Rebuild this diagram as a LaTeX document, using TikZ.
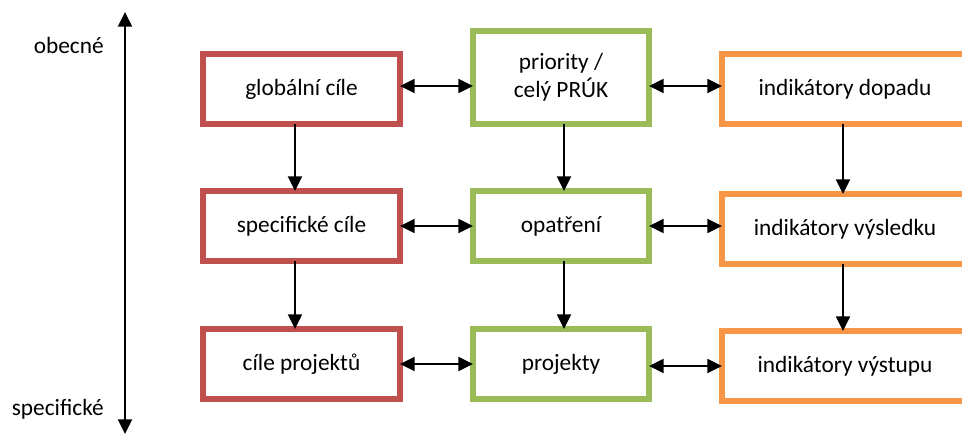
\documentclass[tikz,border=0pt]{standalone}
\usepackage{fontspec}
\setmainfont{Carlito}
\usetikzlibrary{arrows.meta}
\definecolor{cilred}{HTML}{C0504D}
\definecolor{prioGreen}{HTML}{9BBB59}
\definecolor{indOrange}{HTML}{F79646}

\begin{document}
\begin{tikzpicture}[x=0.75pt,y=-0.75pt,>={Triangle[length=11pt,width=10.5pt]}]
		\tikzstyle{box}=[draw,rectangle,line width=4.5pt,outer sep=0pt,inner sep=0pt,align=center,text=black,font=\fontsize{17.5}{21}\selectfont,minimum height=52.5pt]
		\tikzstyle{redbox}=[box,draw=cilred,minimum width=147.75pt]
		\tikzstyle{greenbox}=[box,draw=prioGreen,minimum width=132pt]
		\tikzstyle{orangebox}=[box,draw=indOrange,minimum width=184.5pt]
		\tikzstyle{link}=[line width=1.4pt]
		\tikzstyle{axislabel}=[anchor=east,inner sep=0pt,font=\fontsize{17.5}{21}\selectfont]

		\clip (0,0) rectangle (962,434);

		% cile
		\node[redbox] (cil-glob) at (301.5,89) {globální cíle};
		\node[redbox] (cil-spec) at (301.5,226) {specifické cíle};
		\node[redbox] (cil-proj) at (301.5,364) {cíle projektů};

		% priority, opatreni, projekty
		\node[greenbox,minimum height=69.75pt] (prio) at (561,77.5) {priority /\\celý PRÚK};
		\node[greenbox] (opat) at (561,226) {opatření};
		\node[greenbox] (proj) at (561,364) {projekty};

		% indikatory
		\node[orangebox] (ind-dopad) at (845,89) {indikátory dopadu};
		\node[orangebox] (ind-vysl) at (845,229) {indikátory výsledku};
		\node[orangebox] (ind-vyst) at (845,366) {indikátory výstupu};

		\draw[link,<->] ([yshift=2.25pt]cil-glob.east) -- ([yshift=2.25pt]prio.west |- cil-glob.east);
		\draw[link,<->] ([yshift=2.25pt]prio.east |- ind-dopad.west) -- ([yshift=2.25pt]ind-dopad.west);
		\draw[link,<->] (cil-spec.east) -- (opat.west);
		\draw[link,<->] (opat.east) -- (ind-vysl.west |- opat.east);
		\draw[link,<->] (cil-proj.east) -- (proj.west);
		\draw[link,<->] (proj.east |- ind-vyst.west) -- (ind-vyst.west);

		\draw[link,->] ([xshift=-4.9pt]cil-glob.south) -- ([xshift=-4.9pt]cil-spec.north);
		\draw[link,->] ([xshift=-4.9pt]cil-spec.south) -- ([xshift=-4.9pt]cil-proj.north);
		\draw[link,->] ([xshift=2.25pt]prio.south) -- ([xshift=2.25pt]opat.north);
		\draw[link,->] ([xshift=2.25pt]opat.south) -- ([xshift=2.25pt]proj.north);
		\draw[link,->] ([xshift=-1.5pt]ind-dopad.south) -- ([xshift=-1.5pt]ind-vysl.north);
		\draw[link,->] ([xshift=-1.5pt]ind-vysl.south) -- ([xshift=-1.5pt]ind-vyst.north);

		% osa obecne - specificke
		\coordinate (axis-top) at (125,12);
		\coordinate (axis-bot) at (125,434);
		\draw[link,<->] (axis-bot) -- (axis-top);
		\node[axislabel] (obecne) at (104,45) {obecné};
		\node[axislabel] (specif) at (104,409) {specifické};

\end{tikzpicture}
\end{document}
